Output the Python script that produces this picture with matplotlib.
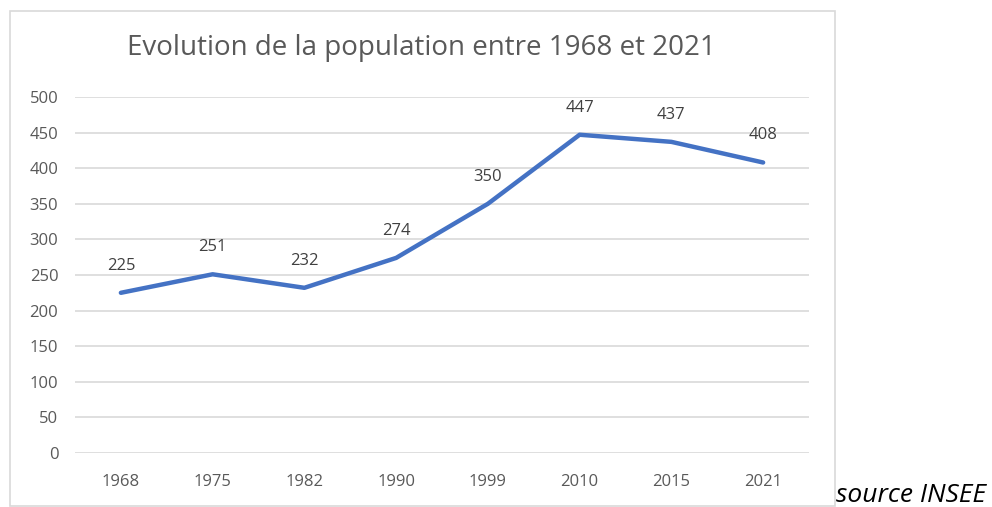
import matplotlib.pyplot as plt
from matplotlib.patches import Rectangle

annees = ["1968", "1975", "1982", "1990", "1999", "2010", "2015", "2021"]
population = [225, 251, 232, 274, 350, 447, 437, 408]
yticks = [0, 50, 100, 150, 200, 250, 300, 350, 400, 450, 500]

plt.rcParams['font.family'] = ['Open Sans', 'DejaVu Sans']

W, H = 992, 507
fig = plt.figure(figsize=(W / 100, H / 100), dpi=100)

# cadre du graphique (style Excel)
fig.patches.append(Rectangle((10 / W, 1 / H), 825 / W, 495 / H, transform=fig.transFigure,
                             fill=False, edgecolor='#d9d9d9', linewidth=1.2))

ax = fig.add_axes([75 / W, 54 / H, 734 / W, 356 / H])
x = list(range(len(annees)))
ax.plot(x, population, color='#4472C4', linewidth=3.2, solid_capstyle='round', zorder=3)
for xi, v in zip(x, population):
    ax.annotate(str(v), (xi, v), xytext=(0, 19.5), textcoords='offset points',
                ha='center', va='center', fontsize=12, color='#404040')

ax.set_xlim(-0.5, len(annees) - 0.5)
ax.set_ylim(0, 500)
ax.set_yticks(yticks)
ax.set_xticks(x)
ax.set_xticklabels(annees)
ax.grid(axis='y', color='#d9d9d9', linewidth=1.2)
ax.set_axisbelow(True)
for s in ax.spines.values():
    s.set_visible(False)
ax.tick_params(length=0, labelsize=12, colors='#595959')
ax.tick_params(axis='y', pad=12)
ax.tick_params(axis='x', pad=15)

fig.text(421 / W, 1 - 48 / H, "Evolution de la population entre 1968 et 2021",
         ha='center', va='center', fontsize=20, color='#595959')
fig.text(836 / W, 1 - 496 / H, "source INSEE", ha='left', va='center',
         fontsize=19, style='italic', color='black')

fig.savefig("out.png", dpi=100)
